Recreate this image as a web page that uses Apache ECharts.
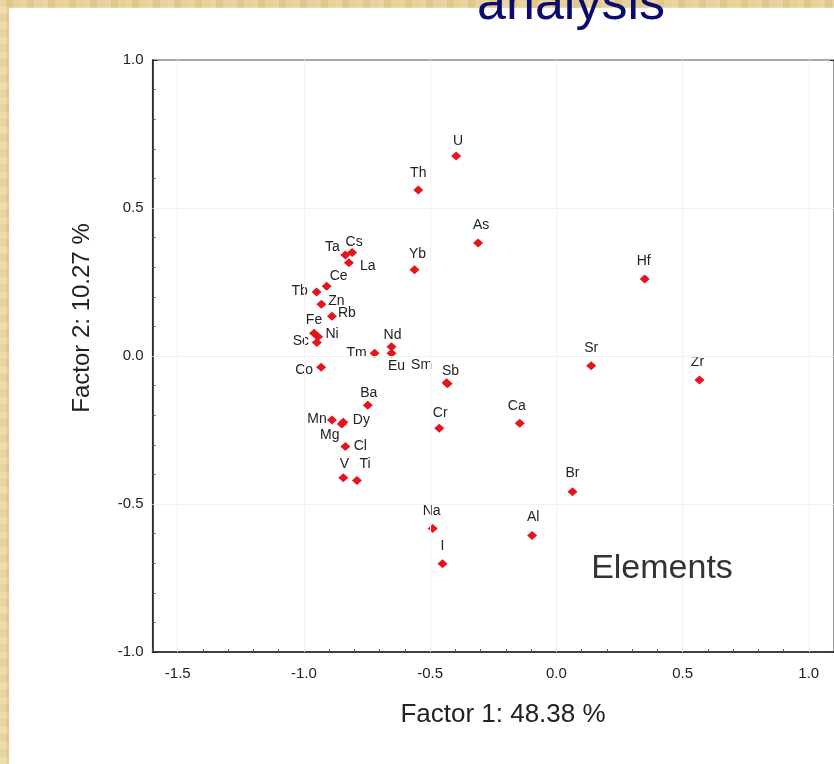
<!DOCTYPE html>
<html>
<head>
<meta charset="utf-8">
<script src="https://cdn.jsdelivr.net/npm/echarts@6/dist/echarts.min.js"></script>
<style>
    html, body { margin: 0; padding: 0; }
    body {
        width: 834px; height: 764px; overflow: hidden; position: relative;
        background-color: #e9d199;
        background-image:
            repeating-linear-gradient(90deg, rgba(255,255,255,0.14) 0 6px, rgba(170,130,50,0.07) 6px 13px, rgba(255,255,255,0.08) 13px 21px),
            repeating-linear-gradient(0deg, rgba(255,255,255,0.10) 0 7px, rgba(170,130,50,0.06) 7px 15px);
    }
    #panel { position: absolute; left: 9px; top: 8px; right: 0; bottom: 0; background: #fff; }
    #echarts { position: absolute; left: 0; top: 0; width: 834px; height: 764px; }
</style>
</head>
<body>
<div id="panel"></div>
<div id="echarts"></div>
<script>
// 元素名称与两个因子载荷
let elements = ['U', 'Th', 'As', 'Yb', 'Hf', 'Ta', 'Cs', 'La', 'Ce', 'Tb', 'Zn', 'Rb', 'Fe', 'Ni', 'Sc', 'Co', 'Tm', 'Nd', 'Eu', 'Sm', 'Sb', 'Ba', 'Mn', 'Dy', 'Mg', 'Cl', 'V', 'Ti', 'Cr', 'Ca', 'Sr', 'Zr', 'Br', 'Na', 'Al', 'I'];
let factor1 = [-0.397, -0.547, -0.310, -0.562, 0.350, -0.836, -0.809, -0.822, -0.910, -0.950, -0.931, -0.889, -0.960, -0.944, -0.949, -0.932, -0.720, -0.653, -0.653, -0.435, -0.431, -0.747, -0.889, -0.844, -0.850, -0.836, -0.844, -0.790, -0.464, -0.145, 0.138, 0.567, 0.064, -0.490, -0.096, -0.451];
let factor2 = [0.676, 0.561, 0.382, 0.291, 0.260, 0.341, 0.350, 0.315, 0.236, 0.216, 0.175, 0.134, 0.077, 0.065, 0.046, -0.038, 0.009, 0.031, 0.009, -0.090, -0.094, -0.166, -0.216, -0.224, -0.230, -0.306, -0.411, -0.421, -0.244, -0.227, -0.033, -0.081, -0.459, -0.583, -0.606, -0.702];
let xTicks = [-1.5, -1.0, -0.5, 0.0, 0.5, 1.0];
let yTicks = [-1.0, -0.5, 0.0, 0.5, 1.0];

// label offsets (px) from the marker centre, hand placed like the original
let labelShift = {
    U: [2, -15], Th: [0, -17], As: [3, -18], Yb: [3, -16], Hf: [-1, -18],
    Ta: [-13, -8], Cs: [2, -10], La: [19, 3], Ce: [12, -10], Tb: [-17, -1],
    Zn: [15, -3], Rb: [15, -3], Fe: [0, -13], Ni: [14, -3], Sc: [-16, -1],
    Co: [-17, 3], Tm: [-18, 0], Nd: [1, -12], Eu: [5, 13], Sm: [-25, -17],
    Sb: [3, -13], Ba: [1, -12], Mn: [-15, -1], Dy: [18, -2], Mg: [-12, 11],
    Cl: [15, 0], V: [1, -14], Ti: [8, -16], Cr: [1, -15], Ca: [-3, -17],
    Sr: [0, -18], Zr: [-2, -18], Br: [0, -19], Na: [-1, -17], Al: [1, -18], I: [0, -18]
};

let font = '"Liberation Sans", Arial, sans-serif';
let minorX = [];
for (let i = -16; i <= 11; i++) minorX.push(i / 10);

let points = elements.map(function (name, i) {
    return {
        name: name,
        value: [factor1[i], factor2[i]],
        label: { offset: labelShift[name] || [0, -16] }
    };
});

let myChart = echarts.init(document.getElementById('echarts'));
myChart.setOption({
    backgroundColor: 'transparent',
    animation: false,
    grid: {
        left: 152.5, top: 60, right: -2, bottom: 112,
        show: true, borderColor: '#555', borderWidth: 1.2
    },
    xAxis: [
        {
            type: 'value', min: -1.6, max: 1.1, position: 'bottom',
            axisLine: { onZero: false, lineStyle: { color: '#222', width: 1.6 } },
            axisTick: { customValues: xTicks, inside: true, length: 5, lineStyle: { color: '#222' } },
            axisLabel: {
                customValues: xTicks, margin: 14, fontSize: 15, color: '#222', fontFamily: font,
                formatter: function (v) { return v.toFixed(1); }
            },
            splitLine: { show: false }
        },
        {
            type: 'value', min: -1.6, max: 1.1, position: 'bottom',
            axisLine: { show: false, onZero: false },
            axisTick: { customValues: minorX, inside: true, length: 3, lineStyle: { color: '#555' } },
            axisLabel: { show: false },
            splitLine: { show: false }
        }
    ],
    yAxis: [
        {
            type: 'value', min: -1, max: 1, interval: 0.5, position: 'left',
            axisLine: { show: true, onZero: false, lineStyle: { color: '#222', width: 1.6 } },
            axisTick: { show: true, inside: true, length: 5, lineStyle: { color: '#222' } },
            minorTick: { show: true, splitNumber: 5, length: 3, lineStyle: { color: '#555' } },
            axisLabel: {
                margin: 9, fontSize: 15, color: '#222', fontFamily: font,
                formatter: function (v) { return v.toFixed(1); }
            },
            splitLine: { show: false }
        },
        {
            type: 'value', min: -1, max: 1, interval: 0.5, position: 'right',
            axisLine: { show: false, onZero: false },
            axisTick: { show: true, inside: true, length: 4, lineStyle: { color: '#333' } },
            axisLabel: { show: false },
            splitLine: { show: false }
        }
    ],
    graphic: [
        {
            type: 'text', x: 571, y: 5, z: 100,
            style: { text: 'analysis', fontSize: 52, fontFamily: font, fill: '#0b0b6e', align: 'center', verticalAlign: 'middle' }
        },
        {
            type: 'text', x: 662, y: 569, z: 100,
            style: { text: 'Elements', fontSize: 34, fontFamily: font, fill: '#333', align: 'center', verticalAlign: 'middle' }
        },
        {
            type: 'text', x: 503, y: 715,
            style: { text: 'Factor 1: 48.38 %', fontSize: 26, fontFamily: font, fill: '#222', align: 'center', verticalAlign: 'middle' }
        },
        {
            type: 'text', x: 82, y: 318, rotation: Math.PI / 2,
            style: { text: 'Factor 2: 10.27 %', fontSize: 24, fontFamily: font, fill: '#222', align: 'center', verticalAlign: 'middle' }
        }
    ],
    series: [
        {
            // faint grid lines at the major ticks
            type: 'scatter', data: [], z: 1, silent: true,
            markLine: {
                silent: true, symbol: 'none', label: { show: false },
                lineStyle: { color: '#f2f2f2', width: 1, type: 'solid' },
                data: xTicks.map(function (v) { return { xAxis: v }; })
                    .concat(yTicks.filter(function (v) { return Math.abs(v) < 1; }).map(function (v) { return { yAxis: v }; }))
            }
        },
        {
            name: 'Elements',
            type: 'scatter',
            z: 3,
            symbol: 'diamond',
            symbolSize: [10, 9],
            itemStyle: { color: '#e8141c', opacity: 1 },
            label: {
                show: true, position: 'inside', fontSize: 14, color: '#222', fontFamily: font,
                textBorderWidth: 0, formatter: '{b}'
            },
            data: points
        }
    ]
});
</script>
</body>
</html>
